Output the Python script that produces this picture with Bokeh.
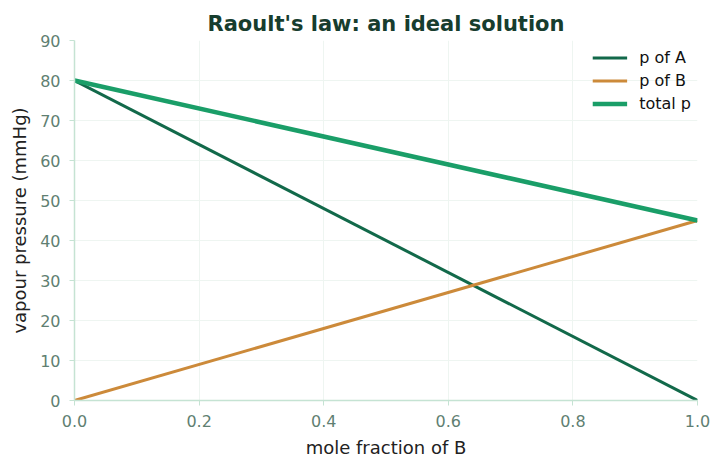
from bokeh.plotting import figure
from bokeh.models import Range1d, FixedTicker, NumeralTickFormatter
from bokeh.embed import file_html
from bokeh.resources import INLINE

# data
x_B = [0.0, 1.0]
p_A = [80, 0]
p_B = [0, 45]
p_total = [80, 45]

x_ticks = [0.0, 0.2, 0.4, 0.6, 0.8, 1.0]
y_ticks = [0, 10, 20, 30, 40, 50, 60, 70, 80, 90]

FONT = "DejaVu Sans"

p = figure(width=725, height=469, output_backend="svg", toolbar_location=None,
           x_range=Range1d(0, 1), y_range=Range1d(0, 90),
           title="Raoult's law: an ideal solution",
           x_axis_label="mole fraction of B", y_axis_label="vapour pressure (mmHg)",
           min_border_left=74, min_border_right=28, min_border_top=40, min_border_bottom=69)

p.title.align = "center"
p.title.text_font = FONT
p.title.text_font_size = "21px"
p.title.text_font_style = "bold"
p.title.text_color = "#173d2e"

p.line(x_B, p_A, legend_label="p of A", line_width=3, color="#12694a")
p.line(x_B, p_B, legend_label="p of B", line_width=3, color="#cc8a3a")
p.line(x_B, p_total, legend_label="total p", line_width=4.5, color="#1a9e68")

p.xaxis.ticker = FixedTicker(ticks=x_ticks)
p.yaxis.ticker = FixedTicker(ticks=y_ticks)
p.xaxis.formatter = NumeralTickFormatter(format="0.0")

for ax in (p.xaxis, p.yaxis):
    ax.axis_line_color = "#c5e3d3"
    ax.axis_line_width = 1.5
    ax.major_tick_line_color = "#c5e3d3"
    ax.minor_tick_line_color = None
    ax.major_tick_in = 0
    ax.major_tick_out = 5
    ax.major_label_text_font = FONT
    ax.major_label_text_font_size = "16px"
    ax.major_label_text_color = "#5f7f72"
    ax.major_label_standoff = 9
    ax.axis_label_text_font = FONT
    ax.axis_label_text_font_size = "18px"
    ax.axis_label_text_font_style = "normal"
    ax.axis_label_text_color = "#222222"
    ax.axis_label_standoff = 7

p.grid.grid_line_color = "#eef5f1"
p.outline_line_color = None

p.legend.location = "top_right"
p.legend.border_line_color = None
p.legend.background_fill_alpha = 0
p.legend.label_text_font = FONT
p.legend.label_text_font_size = "16px"
p.legend.label_text_color = "#111111"
p.legend.glyph_width = 35
p.legend.label_standoff = 12
p.legend.margin = 6
p.legend.padding = 8
p.legend.spacing = 0
p.legend.label_height = 23
p.legend.glyph_height = 23

open("out.html", "w").write(file_html(p, INLINE))
